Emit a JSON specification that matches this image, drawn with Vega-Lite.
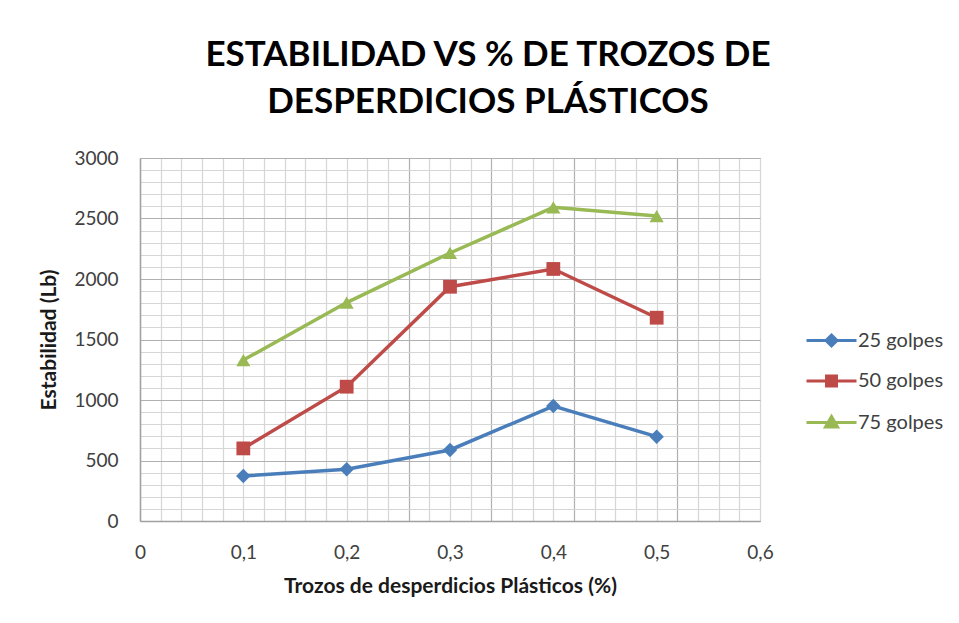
{
  "$schema": "https://vega.github.io/schema/vega-lite/v6.json",
  "width": 620,
  "height": 363,
  "autosize": {"type": "none"},
  "padding": {"left": 140, "top": 158, "right": 199, "bottom": 102},
  "background": "white",
  "title": {
    "text": ["ESTABILIDAD VS % DE TROZOS DE", "DESPERDICIOS PLÁSTICOS"],
    "font": "Lato",
    "fontSize": 35,
    "fontWeight": "bold",
    "color": "#000000",
    "anchor": "middle",
    "dx": 38,
    "lineHeight": 47,
    "offset": 29
  },
  "data": {
    "values": [
      {"x": 0.1, "y": 372, "serie": "25 golpes"},
      {"x": 0.2, "y": 427, "serie": "25 golpes"},
      {"x": 0.3, "y": 587, "serie": "25 golpes"},
      {"x": 0.4, "y": 950, "serie": "25 golpes"},
      {"x": 0.5, "y": 697, "serie": "25 golpes"},
      {"x": 0.1, "y": 600, "serie": "50 golpes"},
      {"x": 0.2, "y": 1110, "serie": "50 golpes"},
      {"x": 0.3, "y": 1936, "serie": "50 golpes"},
      {"x": 0.4, "y": 2083, "serie": "50 golpes"},
      {"x": 0.5, "y": 1680, "serie": "50 golpes"},
      {"x": 0.1, "y": 1330, "serie": "75 golpes"},
      {"x": 0.2, "y": 1805, "serie": "75 golpes"},
      {"x": 0.3, "y": 2215, "serie": "75 golpes"},
      {"x": 0.4, "y": 2592, "serie": "75 golpes"},
      {"x": 0.5, "y": 2520, "serie": "75 golpes"}
    ]
  },
  "encoding": {
    "x": {
      "field": "x",
      "type": "quantitative",
      "scale": {"domain": [0, 0.6], "nice": false, "zero": false},
      "axis": {
        "title": "Trozos de desperdicios Plásticos (%)",
        "values": [0, 0.02, 0.04, 0.06, 0.08, 0.1, 0.12, 0.14, 0.16, 0.18, 0.2, 0.22, 0.24, 0.26, 0.28, 0.3, 0.32, 0.34, 0.36, 0.38, 0.4, 0.42, 0.44, 0.46, 0.48, 0.5, 0.52, 0.54, 0.56, 0.58, 0.6],
        "labelExpr": "abs(datum.value*10 - round(datum.value*10)) < 0.000001 ? replace(format(datum.value, '.1~f'), '.', ',') : ''",
        "labelOverlap": false,
        "labelFlush": false,
        "ticks": false,
        "labelPadding": 22,
        "titlePadding": 13,
        "gridColor": {
          "condition": {"test": "abs(datum.value-0.26)<0.001 || abs(datum.value-0.34)<0.001 || abs(datum.value-0.42)<0.001 || abs(datum.value-0.52)<0.001", "value": "#b0b0b0"},
          "value": "#d6d6d6"
        }
      }
    },
    "y": {
      "field": "y",
      "type": "quantitative",
      "scale": {"domain": [0, 3000], "nice": false},
      "axis": {
        "title": "Estabilidad (Lb)",
        "values": [0, 100, 200, 300, 400, 500, 600, 700, 800, 900, 1000, 1100, 1200, 1300, 1400, 1500, 1600, 1700, 1800, 1900, 2000, 2100, 2200, 2300, 2400, 2500, 2600, 2700, 2800, 2900, 3000],
        "labelExpr": "datum.value % 500 === 0 ? format(datum.value, 'd') : ''",
        "labelOverlap": false,
        "labelFlush": false,
        "ticks": false,
        "labelPadding": 22,
        "titlePadding": 14,
        "gridColor": {
          "condition": {"test": "datum.value % 500 === 0", "value": "#b0b0b0"},
          "value": "#d6d6d6"
        }
      }
    },
    "color": {
      "field": "serie",
      "type": "nominal",
      "scale": {"domain": ["25 golpes", "50 golpes", "75 golpes"], "range": ["#4A7EBB", "#BE4B48", "#98B954"]},
      "legend": {
        "title": null,
        "orient": "none",
        "legendX": 680,
        "legendY": 171,
        "padding": 0,
        "symbolType": "M-2.5,0H2.5",
        "symbolSize": 400,
        "symbolStrokeWidth": 3,
        "labelOffset": 15,
        "rowPadding": 17.5,
        "labelFont": "Lato",
        "labelFontSize": 20,
        "labelColor": "#404040",
        "encode": {
          "symbols": {
            "update": {
              "shape": {"signal": "datum.value === '25 golpes' ? 'M-2.5,0H2.5M0,-0.55L0.55,0L0,0.55L-0.55,0Z' : datum.value === '50 golpes' ? 'M-2.5,0H2.5M-0.5,-0.5H0.5V0.5H-0.5Z' : 'M-2.5,0H2.5M0,-0.6L0.6,0.45H-0.6Z'"},
              "stroke": {"signal": "datum.value === '25 golpes' ? '#4A7EBB' : datum.value === '50 golpes' ? '#BE4B48' : '#98B954'"},
              "fill": {"signal": "datum.value === '25 golpes' ? '#4A7EBB' : datum.value === '50 golpes' ? '#BE4B48' : '#98B954'"},
              "strokeWidth": {"value": 3},
              "opacity": {"value": 1}
            }
          }
        }
      }
    }
  },
  "layer": [
    {
      "mark": {"type": "line", "strokeWidth": 3.5}
    },
    {
      "transform": [{"filter": "datum.serie === '25 golpes'"}],
      "mark": {"type": "point", "shape": "diamond", "filled": true, "opacity": 1, "size": 210}
    },
    {
      "transform": [{"filter": "datum.serie === '50 golpes'"}],
      "mark": {"type": "point", "shape": "square", "filled": true, "opacity": 1, "size": 190}
    },
    {
      "transform": [{"filter": "datum.serie === '75 golpes'"}],
      "mark": {"type": "point", "shape": "triangle-up", "filled": true, "opacity": 1, "size": 200}
    }
  ],
  "config": {
    "view": {"stroke": "#bcbcbc", "strokeWidth": 1},
    "axis": {
      "labelFont": "Lato",
      "labelFontSize": 19,
      "labelColor": "#404040",
      "titleFont": "Lato",
      "titleFontSize": 21,
      "titleFontWeight": "bold",
      "titleColor": "#1a1a1a",
      "domainColor": "#a0a0a0",
      "domainWidth": 1.5,
      "gridWidth": 1.2
    }
  }
}
